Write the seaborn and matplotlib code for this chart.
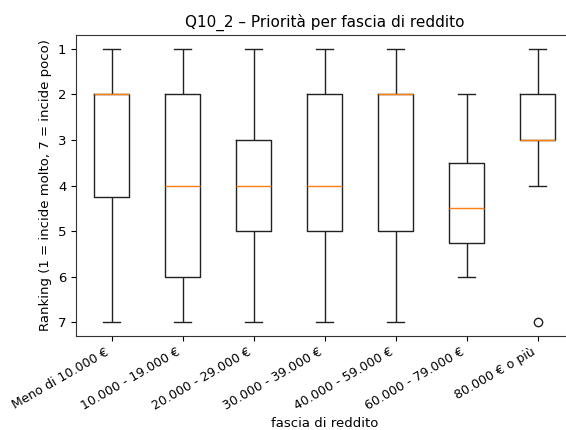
import matplotlib
matplotlib.use("Agg")
import matplotlib.pyplot as plt
import seaborn as sns
import pandas as pd

categories = ["Meno di 10.000 €", "10.000 - 19.000 €", "20.000 - 29.000 €",
              "30.000 - 39.000 €", "40.000 - 59.000 €", "60.000 - 79.000 €",
              "80.000 € o più"]

# rankings per income band (read from the box summaries)
meno_10 = [1, 2, 2, 2, 2, 4, 5, 7]
r10_19 = [1, 2, 4, 6, 7]
r20_29 = [1, 3, 4, 5, 7]
r30_39 = [1, 2, 4, 5, 7]
r40_59 = [1, 2, 2, 5, 7]
r60_79 = [2, 2, 4, 4, 5, 5, 6, 6]
r80_plus = [1, 2, 2, 3, 3, 3, 3, 4, 7]

groups = [meno_10, r10_19, r20_29, r30_39, r40_59, r60_79, r80_plus]
rows = []
for cat, vals in zip(categories, groups):
    for v in vals:
        rows.append({"fascia": cat, "rank": v})
df = pd.DataFrame(rows)

fig = plt.figure(figsize=(5.66, 4.30), dpi=100)
ax = fig.add_axes([76 / 566, 1 - 336 / 430, 497 / 566, 301 / 430])

sns.boxplot(data=df, x="fascia", y="rank", order=categories, width=0.5,
            fill=False, color="#222222", linewidth=1.0, whis=1.5,
            medianprops=dict(color="#ff7f0e", linewidth=1.0),
            flierprops=dict(marker="o", markerfacecolor="none",
                            markeredgecolor="#222222", markersize=6),
            ax=ax)

ax.set_ylim(7.3, 0.7)
ax.set_xlim(-0.5, 6.5)
ax.set_yticks([1, 2, 3, 4, 5, 6, 7])
ax.set_title("Q10_2 – Priorità per fascia di reddito", fontsize=11)
ax.set_xlabel("fascia di reddito", fontsize=9.5, labelpad=3)
ax.set_ylabel("Ranking (1 = incide molto, 7 = incide poco)", fontsize=9.5)
ax.tick_params(axis="x", labelsize=9)
ax.tick_params(axis="y", labelsize=9.5)
plt.setp(ax.get_xticklabels(), rotation=30, ha="right")
for s in ax.spines.values():
    s.set_color("#333333")
ax.spines["right"].set_visible(False)

fig.savefig("out.png", dpi=100)
